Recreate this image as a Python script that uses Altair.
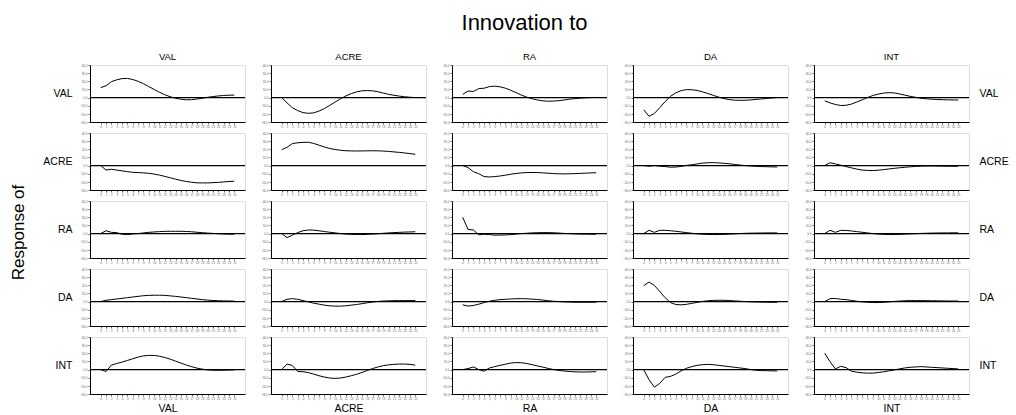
import altair as alt
import pandas as pd

FONT = "Liberation Sans"

variables = ["VAL", "ACRE", "RA", "DA", "INT"]
periods = list(range(26))
y_ticks = [-30, -20, -10, 0, 10, 20, 30, 40]

# Response of VAL to innovation in VAL, ACRE, RA, DA, INT
val_val = [12.2, 14.5, 19.5, 21.8, 23.3, 23.5, 22.2, 20.0, 17.0, 13.5, 10.0, 6.5, 3.5,
           1.0, -0.8, -2.0, -2.7, -2.6, -1.8, -0.8, 0.3, 1.2, 2.0, 2.6, 2.9, 3.0]
val_acre = [0.0, -6.5, -12.5, -16.0, -18.5, -19.3, -18.8, -16.5, -13.5, -9.5, -5.5, -1.5, 2.0,
            4.8, 7.0, 8.3, 8.6, 8.3, 7.2, 5.5, 4.0, 2.8, 1.8, 1.0, 0.4, 0.0]
val_ra = [4.0, 8.0, 7.5, 11.0, 11.5, 13.5, 14.0, 13.2, 11.5, 9.0, 6.0, 3.0, 0.5,
          -1.5, -3.0, -4.0, -4.5, -4.3, -3.8, -3.0, -2.0, -1.3, -0.7, -0.3, 0.0, 0.2]
val_da = [-15.0, -23.0, -19.5, -12.5, -5.0, 1.5, 5.8, 8.5, 9.8, 9.6, 8.8, 7.0, 5.0,
          2.8, 0.6, -1.2, -2.5, -3.2, -3.4, -3.3, -2.9, -2.3, -1.7, -1.1, -0.5, 0.0]
val_int = [-4.0, -6.5, -8.5, -9.7, -9.5, -8.0, -5.5, -2.8, 0.0, 2.5, 4.2, 5.5, 6.0,
           5.7, 4.5, 3.0, 1.5, 0.3, -0.8, -1.5, -2.0, -2.3, -2.6, -2.8, -2.9, -3.0]

# Response of ACRE
acre_val = [0.0, -5.5, -4.5, -5.5, -6.5, -7.5, -8.3, -8.6, -9.0, -9.5, -10.5, -11.7, -13.3,
            -15.0, -16.7, -18.3, -19.5, -20.5, -21.2, -21.3, -21.3, -21.0, -20.6, -20.1, -19.6, -19.2]
acre_acre = [19.5, 22.5, 27.0, 28.0, 28.5, 28.6, 27.2, 25.0, 22.8, 21.0, 19.7, 18.8, 18.2,
             18.0, 17.9, 18.0, 18.1, 18.2, 18.1, 17.8, 17.4, 16.8, 16.2, 15.5, 14.7, 13.9]
acre_ra = [0.0, -2.5, -7.5, -10.0, -13.5, -14.0, -13.5, -12.8, -11.8, -10.6, -9.7, -9.0, -8.6,
           -8.5, -8.6, -9.0, -9.4, -9.8, -10.1, -10.2, -10.1, -9.9, -9.6, -9.3, -9.0, -8.8]
acre_da = [0.0, -0.8, 0.0, -0.8, -1.2, -2.0, -1.8, -1.0, 0.2, 1.0, 2.0, 3.0, 3.5,
           3.6, 3.3, 2.8, 2.2, 1.4, 0.6, 0.0, -0.5, -0.9, -1.2, -1.4, -1.6, -1.7]
acre_int = [0.0, 3.5, 2.0, 0.5, -1.2, -2.8, -4.3, -5.5, -6.0, -6.1, -5.7, -5.0, -4.2,
            -3.4, -2.7, -2.1, -1.5, -1.0, -0.7, -0.5, -0.5, -0.6, -0.7, -0.8, -0.8, -0.8]

# Response of RA
ra_val = [0.0, 3.5, 1.5, 1.2, -0.8, -1.2, -0.4, 0.0, 0.8, 1.5, 2.0, 2.4, 2.7,
          2.8, 2.8, 2.8, 2.6, 2.2, 1.6, 1.1, 0.6, 0.2, -0.2, -0.5, -0.7, -0.8]
ra_acre = [0.0, -5.0, -2.0, 1.2, 3.5, 4.4, 4.2, 3.4, 2.5, 1.6, 0.8, 0.0, -0.6,
           -1.0, -1.2, -1.2, -1.0, -0.6, -0.2, 0.3, 0.8, 1.2, 1.5, 1.8, 2.0, 2.2]
ra_ra = [20.0, 5.0, 4.5, -1.5, -0.8, -1.2, -2.0, -1.8, -1.6, -1.3, -0.6, 0.0, 0.4,
         0.8, 1.1, 1.2, 1.2, 1.0, 0.6, 0.2, -0.1, -0.4, -0.6, -0.7, -0.8, -0.8]
ra_da = [0.0, 4.0, 1.5, 4.0, 4.0, 3.5, 2.8, 2.0, 1.2, 0.4, -0.3, -0.8, -1.1,
         -1.2, -1.2, -1.0, -0.7, -0.3, 0.0, 0.3, 0.5, 0.6, 0.7, 0.8, 0.8, 0.8]
ra_int = [0.0, 4.0, 1.5, 4.0, 3.8, 3.2, 2.4, 1.6, 0.8, 0.0, -0.6, -1.0, -1.2,
          -1.2, -1.0, -0.7, -0.4, -0.1, 0.2, 0.4, 0.6, 0.7, 0.8, 0.8, 0.9, 0.9]

# Response of DA
da_val = [0.0, 1.6, 2.4, 3.2, 4.0, 4.8, 5.6, 6.4, 7.2, 7.6, 7.8, 7.8, 7.6,
          7.0, 6.4, 5.6, 4.8, 4.0, 3.2, 2.4, 1.8, 1.3, 1.0, 0.8, 0.7, 0.6]
da_acre = [0.0, 2.8, 3.6, 2.8, 1.2, -0.4, -2.0, -3.2, -4.4, -5.2, -5.6, -5.6, -5.2,
           -4.4, -3.6, -2.6, -1.5, -0.6, 0.2, 0.6, 0.9, 1.1, 1.2, 1.2, 1.2, 1.2]
da_ra = [-4.0, -5.5, -4.8, -3.2, -1.2, 0.4, 1.6, 2.4, 2.8, 3.2, 3.5, 3.6, 3.4,
         3.0, 2.6, 1.8, 1.0, 0.4, 0.0, -0.4, -0.6, -0.8, -0.8, -0.8, -0.8, -0.8]
da_da = [19.5, 24.0, 19.8, 12.5, 4.8, -1.2, -3.6, -4.0, -3.4, -2.2, -1.0, 0.2, 1.0,
         1.5, 1.6, 1.6, 1.3, 0.8, 0.4, 0.0, -0.3, -0.5, -0.7, -0.8, -0.9, -0.9]
da_int = [0.0, 3.6, 3.8, 2.8, 2.4, 1.4, 0.4, -0.4, -0.8, -1.2, -1.2, -0.9, -0.4,
          0.2, 0.6, 1.0, 1.2, 1.2, 1.2, 1.1, 1.0, 0.9, 0.8, 0.7, 0.7, 0.6]

# Response of INT
int_val = [0.0, -2.4, 5.5, 7.5, 9.2, 11.2, 13.3, 15.3, 16.8, 17.4, 17.3, 16.4, 14.8,
           12.8, 10.4, 8.0, 5.6, 3.6, 1.8, 0.5, -0.4, -0.8, -0.9, -0.8, -0.6, -0.4]
int_acre = [0.0, 6.8, 5.0, -2.4, -2.6, -3.8, -5.6, -7.6, -9.2, -10.4, -10.8, -10.4, -9.2,
            -7.6, -5.8, -3.6, -1.2, 1.2, 3.2, 4.8, 5.8, 6.4, 6.8, 6.8, 6.4, 5.4]
int_ra = [0.0, 1.2, 3.2, 0.0, -2.0, 2.0, 3.6, 5.2, 6.6, 8.0, 8.6, 8.4, 7.4,
          6.0, 4.4, 3.0, 1.4, 0.0, -1.0, -1.8, -2.4, -2.8, -3.0, -3.0, -2.8, -2.6]
int_da = [0.0, -12.5, -21.6, -17.0, -9.6, -8.4, -5.6, -1.6, 1.6, 3.6, 5.2, 6.0, 6.4,
          6.0, 5.2, 4.4, 3.6, 2.8, 2.0, 1.2, 0.0, -0.8, -1.2, -1.4, -1.6, -1.6]
int_int = [20.0, 9.6, 0.8, 4.0, 2.4, -2.0, -3.2, -4.0, -4.4, -4.4, -3.6, -2.8, -1.6,
           -0.4, 0.8, 2.0, 2.8, 3.2, 3.6, 3.2, 2.8, 2.4, 2.0, 1.6, 1.2, 0.8]

responses = [
    [val_val, val_acre, val_ra, val_da, val_int],
    [acre_val, acre_acre, acre_ra, acre_da, acre_int],
    [ra_val, ra_acre, ra_ra, ra_da, ra_int],
    [da_val, da_acre, da_ra, da_da, da_int],
    [int_val, int_acre, int_ra, int_da, int_int],
]

W, H = 155, 57
LABEL_SIZE = 10.5

xscale = alt.Scale(domain=[-2, 27], nice=False, zero=False)
yscale = alt.Scale(domain=[-30, 40], nice=False)


def panel(r, c):
    resp = variables[r]
    imp = variables[c]
    df = pd.DataFrame({"period": periods, "value": responses[r][c]})
    zero = pd.DataFrame({"value": [0.0]})

    xkw = dict(values=periods, labelFontSize=3, labelColor="#666", tickSize=2,
               tickColor="#666", domainColor="black", domainWidth=1, grid=False,
               labelPadding=1, labelAngle=0, labelFlush=False, labelOverlap=False)
    if r == 4:
        xkw.update(title=imp, titleFontSize=LABEL_SIZE, titleFontWeight="normal",
                   titleColor="black", titlePadding=3)
    else:
        xkw.update(title=None)

    ykw = dict(values=y_ticks, format=".1f", labelFontSize=3, labelColor="#666",
               tickSize=2, tickColor="#666", domainColor="black", domainWidth=1,
               grid=False, labelPadding=1, labelOverlap=False, labelFlush=False)
    if c == 0:
        ykw.update(title=resp, titleAngle=0, titleAlign="right", titleBaseline="middle",
                   titleX=-18, titleY=H / 2, titleFontSize=LABEL_SIZE,
                   titleFontWeight="normal", titleColor="black")
    else:
        ykw.update(title=None)

    line = alt.Chart(df).mark_line(color="black", strokeWidth=1).encode(
        x=alt.X("period:Q", scale=xscale, axis=alt.Axis(**xkw)),
        y=alt.Y("value:Q", scale=yscale, axis=alt.Axis(**ykw)),
    )

    if c == 4:
        raxis = alt.Axis(orient="right", labels=False, ticks=False, domain=False,
                         grid=False, title=resp, titleAngle=0, titleAlign="left",
                         titleBaseline="middle", titleX=10, titleY=H / 2,
                         titleFontSize=LABEL_SIZE, titleFontWeight="normal",
                         titleColor="black")
    else:
        raxis = None
    rule = alt.Chart(zero).mark_rule(color="black", strokeWidth=1.2).encode(
        y=alt.Y("value:Q", scale=yscale, axis=raxis)
    )

    ch = alt.layer(line, rule).properties(width=W, height=H).resolve_axis(y="independent")
    if r == 0:
        ch = ch.properties(title=alt.TitleParams(imp, fontSize=9.5, fontWeight="normal",
                                                 font=FONT, color="black", offset=3))
    return ch


charts = [panel(r, c) for r in range(5) for c in range(5)]

grid = alt.concat(*charts, columns=5, spacing={"row": 11, "column": 26},
                  bounds="flush").properties(
    title=alt.TitleParams("Response of", orient="left", anchor="middle", fontSize=17,
                          fontWeight="normal", font=FONT, color="black", offset=14)
)

chart = alt.vconcat(grid).properties(
    title=alt.TitleParams("Innovation to", fontSize=22, fontWeight="normal",
                          font=FONT, color="black", anchor="middle", offset=16, dx=15)
).configure_view(
    stroke="#606060", strokeWidth=1.5
).configure_axis(
    labelFont=FONT, titleFont=FONT
).configure(
    font=FONT, padding={"left": 10, "top": 12, "right": 5, "bottom": 2}
)

chart.save("out.html", embed_options={"renderer": "svg", "actions": False})
